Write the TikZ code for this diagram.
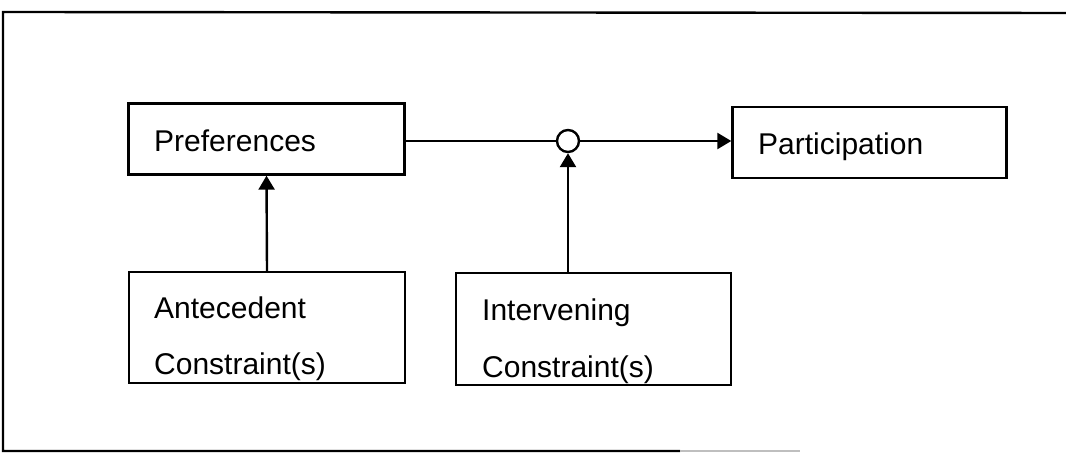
\documentclass[tikz,border=0pt]{standalone}
\usepackage{fontspec}
\setmainfont{Liberation Sans}
\usetikzlibrary{arrows.meta}

\begin{document}
\begin{tikzpicture}[x=0.5pt, y=-0.5pt, >={Triangle[width=8pt,length=7pt]}, line width=1.2pt,
box/.style={draw, rectangle, inner sep=0, minimum width=138pt, minimum height=35.5pt},
txt/.style={anchor=base west, inner sep=0, font=\fontsize{15}{18}\selectfont}]

\useasboundingbox (0,0) rectangle (1066,453);

%\draw[step=50, gray!30, line width=.2pt] (0,0) grid (1066,453);

% frame
\draw (1066,13) -- (3,12) -- (3,451) -- (680,451);
\draw[gray!50] (680,451) -- (800,451);

\node[box] (pref) at (266.5,139) {};
\node[box, minimum width=137pt] (part) at (869.5,142.5) {};
\node[box, minimum height=55.5pt] (ante) at (267,327.5) {};
\node[box, minimum width=137.5pt, minimum height=56pt] (interv) at (593.5,329) {};

\node[draw, circle, fill=white, inner sep=0, minimum size=11pt] (jn) at (568,141) {};

\node[txt] (preftxt) at (153,152) {Preferences};
\node[txt] (parttxt) at (757,155) {Participation};
\node[txt] (antetxt1) at (153,319) {Antecedent};
\node[txt] (antetxt2) at (153,375) {Constraint(s)};
\node[txt] (intervtxt1) at (481,321) {Intervening};
\node[txt] (intervtxt2) at (481,378) {Constraint(s)};

\draw (pref.east |- jn.west) -- (jn.west);
\draw[->] (jn.east) -- (jn.east -| part.west);
\draw[->] (ante.north) -- (pref.south);
\draw[->] (jn.south |- interv.north) -- (jn.south);

\end{tikzpicture}
\end{document}
